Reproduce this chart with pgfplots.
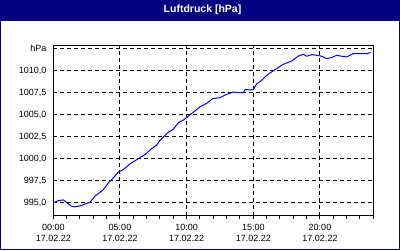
\documentclass[border=0pt]{standalone}
\usepackage{fontspec}
\setmainfont{Liberation Sans}
\usepackage{pgfplots}
\pgfplotsset{compat=1.18}
\definecolor{navy}{RGB}{0,0,128}
\begin{document}
\begin{tikzpicture}[x=1pt,y=1pt]
\useasboundingbox (0,0) rectangle (400,250);
\fill[white] (0,0) rectangle (400,250);
\fill[navy] (0,229.3) rectangle (400,250);
\draw[navy, line width=1.2pt] (0.6,0.6) rectangle (399.4,249.4);
\node[text=white, font=\fontsize{10.5}{12}\selectfont\bfseries] at (202.5,240) {Luftdruck [hPa]};
\begin{axis}[
  at={(40,39)}, anchor=south west,
  scale only axis, width=320pt, height=170.3pt,
  xmin=0, xmax=24, ymin=993.56, ymax=1012.87,
  axis line style={black, line width=1pt},
  xtick={0,5,10,15,20},
  minor xtick={1,2,3,4,6,7,8,9,11,12,13,14,16,17,18,19,21,22,23,24},
  xticklabels={{00:00\\[1.5pt]17.02.22},{05:00\\[1.5pt]17.02.22},{10:00\\[1.5pt]17.02.22},{15:00\\[1.5pt]17.02.22},{20:00\\[1.5pt]17.02.22}},
  ytick={995,997.5,1000,1002.5,1005,1007.5,1010,1012.5},
  yticklabels={{995,0},{997,5},{1000,0},{1002,5},{1005,0},{1007,5},{1010,0},hPa},
  xtick pos=bottom, ytick pos=left,
  tick align=outside,
  major tick length=3pt, minor tick length=3pt,
  xtick style={black, line width=1pt},
  minor tick style={black, line width=1pt},
  ytick style={draw=none},
  grid=major,
  major grid style={black, line width=1pt, dash pattern=on 4pt off 3pt},
  tick label style={font=\fontsize{9}{10}\selectfont},
  xticklabel style={align=center, yshift=-2pt},
  yticklabel style={xshift=-0.5pt},
  clip=true,
]
\addplot[blue, line width=1pt] coordinates {
(0.0,995.00) (0.375,995.26) (0.75,995.34) (1.0,995.05) (1.33,994.65) (1.63,994.55)
(2.1,994.7) (2.5,994.95) (2.75,995.07) (3.1,995.75) (3.5,996.2) (3.75,996.5)
(4.13,997.27) (4.5,997.84) (4.88,998.5) (5.25,998.78) (5.75,999.43) (6.38,1000.03)
(6.88,1000.49) (7.38,1001.17) (7.75,1001.55) (8.0,1002.1) (8.63,1003.02) (9.0,1003.35)
(9.38,1004.1) (9.75,1004.39) (10.13,1004.84) (10.55,1005.34) (11.0,1005.9) (11.5,1006.28)
(11.95,1006.82) (12.5,1006.93) (13.0,1007.31) (13.5,1007.57) (13.88,1007.5) (14.25,1007.5)
(14.38,1007.86) (14.75,1007.8) (15.0,1007.86) (15.25,1008.5) (15.63,1008.9) (16.0,1009.47)
(16.63,1010.11) (17.25,1010.72) (17.88,1011.09) (18.38,1011.66) (18.75,1011.85) (19.0,1011.63)
(19.38,1011.82) (19.75,1011.74) (20.13,1011.63) (20.5,1011.36) (20.88,1011.48) (21.25,1011.74)
(21.63,1011.63) (22.0,1011.55) (22.5,1011.93) (23.0,1011.93) (23.5,1011.93) (23.8,1012.05)
};
\end{axis}
\end{tikzpicture}
\end{document}
